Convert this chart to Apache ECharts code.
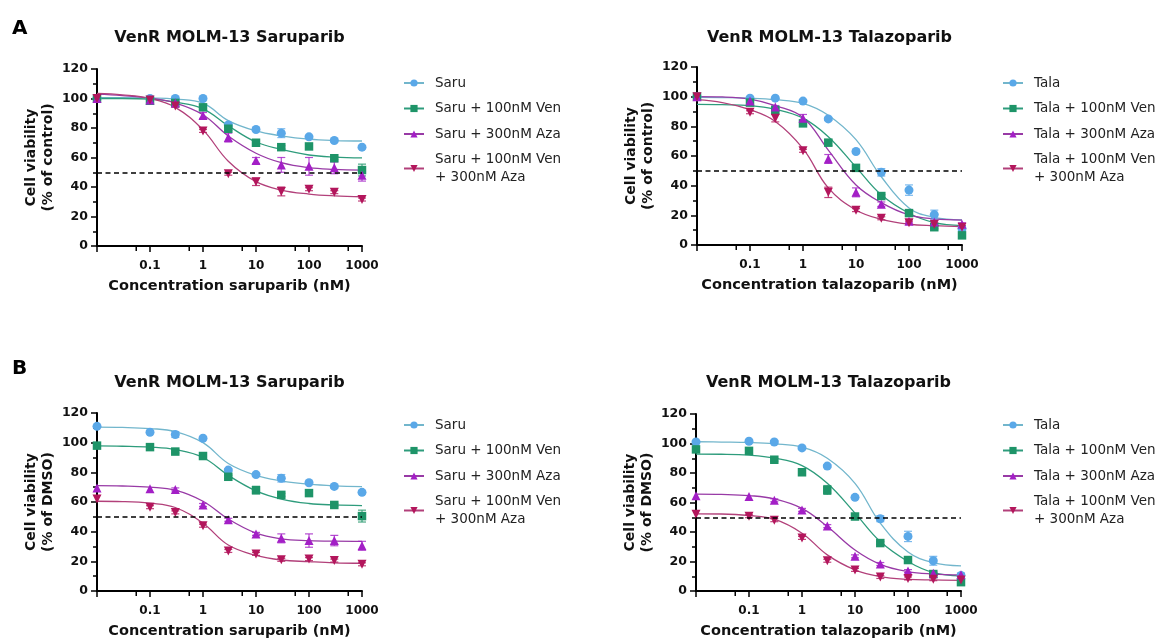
<!DOCTYPE html>
<html>
<head>
<meta charset="utf-8">
<script src="https://cdn.jsdelivr.net/npm/echarts@6/dist/echarts.min.js"></script>
<style>
  html, body { margin: 0; padding: 0; background: #fff; }
  #chart { width: 1171px; height: 641px; }
</style>
</head>
<body>
<div id="chart"></div>
<script>
// concentrations (nM); the untreated control is drawn at the axis origin 0.01
const conc = [0.01, 0.1, 0.3, 1, 3, 10, 30, 100, 300, 1000];
const fitConc = [0.01, 0.03, 0.1, 0.3, 1, 3, 10, 30, 100, 300, 1000];

const saruNames = ['Saru', 'Saru + 100nM Ven', 'Saru + 300nM Aza', 'Saru + 100nM Ven\n+ 300nM Aza'];
const talaNames = ['Tala', 'Tala + 100nM Ven', 'Tala + 300nM Aza', 'Tala + 100nM Ven\n+ 300nM Aza'];
const titles = ['VenR MOLM-13 Saruparib', 'VenR MOLM-13 Talazoparib', 'VenR MOLM-13 Saruparib', 'VenR MOLM-13 Talazoparib'];
const yNames = ['Cell viability\n(% of control)', 'Cell viability\n(% of control)', 'Cell viability\n(% of DMSO)', 'Cell viability\n(% of DMSO)'];
const xNames = ['Concentration saruparib (nM)', 'Concentration talazoparib (nM)', 'Concentration saruparib (nM)', 'Concentration talazoparib (nM)'];
// minor x ticks (nM)
const minorTicks = [0.055, 0.55, 5.5, 55, 550];

// ---- A, saruparib (% of control)
const aSaru = [100, 100, 100, 100, 82, 79, 76.5, 74, 71.5, 67];
const aSaruErr = [0, 0, 1, 0, 1, 1, 3, 1, 1, 1];
const aSaruFit = [100.5, 100.5, 100.3, 99.6, 96.8, 85, 78, 74.7, 72.4, 71.5, 71.2];
const aSaruVen = [100, 98.5, 97, 94, 79.5, 70, 67, 67.5, 59.5, 51.5];
const aSaruVenErr = [0, 0, 0, 1, 1, 2, 1, 1, 1, 4];
const aSaruVenFit = [100, 100, 99.6, 97.5, 93, 81.5, 70.5, 65.5, 61.7, 60.3, 59.8];
const aSaruAza = [100, 99, 97, 88.5, 73.5, 58, 55, 54, 53, 48];
const aSaruAzaErr = [0, 0, 1, 2, 3, 2, 5, 6, 4, 4];
const aSaruAzaFit = [103, 102, 100.3, 97, 89, 74.6, 62.9, 56.5, 53.1, 52, 51.5];
const aSaruVenAza = [100, 99, 95, 78, 49, 43.5, 37, 38.5, 36.5, 31.5];
const aSaruVenAzaErr = [0, 0, 1, 1, 1, 2.5, 3, 1, 1, 1];
const aSaruVenAzaFit = [103.5, 102.5, 100, 94, 78.7, 57.5, 43.6, 37.9, 35.2, 34, 33.4];

// ---- A, talazoparib (% of control)
const aTala = [100, 99, 99, 97, 85, 63, 49, 37, 20.5, 11];
const aTalaErr = [0, 1, 0, 1, 1, 1, 2.5, 3.5, 3, 1.5];
const aTalaFit = [99.5, 99.4, 99, 98, 95.5, 87.5, 71, 46, 25, 18.7, 17];
const aTalaVen = [100, 96, 91, 82, 69, 52, 33, 21.5, 12, 6.5];
const aTalaVenErr = [0, 1, 1, 1, 2, 1, 1, 1, 1, 1];
const aTalaVenFit = [94.8, 94.6, 94, 91.5, 85.5, 73, 52.5, 33.8, 21.4, 15.1, 13.1];
const aTalaAza = [100, 97, 93, 85.5, 58, 35.5, 27.5, 16, 15.5, 14];
const aTalaAzaErr = [0, 0, 1, 2.5, 3, 3, 1.5, 1, 1, 1];
const aTalaAzaFit = [100, 99.8, 98.4, 94, 86, 64, 40.5, 28.6, 20.3, 17.6, 16.8];
const aTalaVenAza = [100, 89.5, 85.5, 63.5, 35.5, 23.5, 18, 15, 14, 12];
const aTalaVenAzaErr = [0, 1, 2.5, 1, 3.5, 1, 1, 1, 1, 1];
const aTalaVenAzaFit = [98, 96, 91.2, 83.3, 65, 38.5, 23.6, 17.3, 14, 13, 12.4];

// ---- B, saruparib (% of DMSO)
const bSaru = [111, 107, 105.5, 103, 81.5, 78.5, 76, 73, 70.5, 66.5];
const bSaruErr = [0, 1, 2, 1, 1, 1, 2.5, 1, 1, 1];
const bSaruFit = [110.5, 110.3, 109.5, 107.5, 100, 86, 78, 74.3, 72, 70.9, 70.4];
const bSaruVen = [98, 97, 94, 91, 77, 68, 64.8, 66, 58, 50.5];
const bSaruVenErr = [0, 0, 1, 1, 1, 2.5, 1, 1, 1, 4];
const bSaruVenFit = [97.8, 97.6, 97, 95.3, 90, 78, 67.5, 62, 59, 58, 57.6];
const bSaruAza = [69.5, 69, 68.5, 58, 48, 38.5, 35.5, 34, 34, 30.5];
const bSaruAzaErr = [0, 0, 1, 1, 1, 1, 3, 4.5, 3.5, 3];
const bSaruAzaFit = [71, 70.8, 70, 68, 60.5, 48.5, 39, 35.2, 34, 33.6, 33.5];
const bSaruVenAza = [62, 56.5, 53, 44, 27, 25, 21, 21.5, 20.5, 18];
const bSaruVenAzaErr = [0, 1, 1, 1, 1, 1, 1, 1, 1, 1];
const bSaruVenAzaFit = [60.5, 60.3, 59.2, 56.3, 45.7, 31, 24, 20.9, 19.8, 19, 18.7];

// ---- B, talazoparib (% of DMSO)
const bTala = [101, 101.5, 101, 97, 84.7, 63.5, 49, 37, 20.5, 10.5];
const bTalaErr = [0, 1, 1, 1, 1, 1, 2, 3.5, 3, 1];
const bTalaFit = [101.2, 101, 100.7, 99.8, 97.5, 90, 73, 46, 26.5, 19.2, 17];
const bTalaVen = [96, 95, 89, 80.5, 68.5, 50.5, 32.5, 21, 11.5, 6];
const bTalaVenErr = [0, 1, 1, 1, 3, 1, 1, 1, 1, 1];
const bTalaVenFit = [92.8, 92.7, 92.1, 90.1, 85, 73, 52.8, 33.5, 20, 12.5, 10.2];
const bTalaAza = [64.5, 64, 61.5, 55, 44, 23.5, 18.3, 13.5, 12, 11];
const bTalaAzaErr = [0, 0, 1, 1, 1, 1, 1, 1, 1, 1];
const bTalaAzaFit = [65.7, 65.5, 64.7, 62.5, 56, 43.7, 27.8, 18.1, 13.1, 11.5, 10.9];
const bTalaVenAza = [52, 50.7, 48, 36, 20.5, 14.3, 9.5, 8.5, 8, 7.5];
const bTalaVenAzaErr = [0, 1, 1, 1, 1, 1, 1, 1, 1, 1];
const bTalaVenAzaFit = [52.3, 52.2, 51.2, 48.7, 39.2, 24.5, 14.3, 9.7, 7.9, 7.5, 7.2];

const panels = [
  { names: saruNames, pts: [aSaru, aSaruVen, aSaruAza, aSaruVenAza], errs: [aSaruErr, aSaruVenErr, aSaruAzaErr, aSaruVenAzaErr], fits: [aSaruFit, aSaruVenFit, aSaruAzaFit, aSaruVenAzaFit] },
  { names: talaNames, pts: [aTala, aTalaVen, aTalaAza, aTalaVenAza], errs: [aTalaErr, aTalaVenErr, aTalaAzaErr, aTalaVenAzaErr], fits: [aTalaFit, aTalaVenFit, aTalaAzaFit, aTalaVenAzaFit] },
  { names: saruNames, pts: [bSaru, bSaruVen, bSaruAza, bSaruVenAza], errs: [bSaruErr, bSaruVenErr, bSaruAzaErr, bSaruVenAzaErr], fits: [bSaruFit, bSaruVenFit, bSaruAzaFit, bSaruVenAzaFit] },
  { names: talaNames, pts: [bTala, bTalaVen, bTalaAza, bTalaVenAza], errs: [bTalaErr, bTalaVenErr, bTalaAzaErr, bTalaVenAzaErr], fits: [bTalaFit, bTalaVenFit, bTalaAzaFit, bTalaVenAzaFit] }
];

const markerColors = ['#5aa8e8', '#1e9468', '#a31fc6', '#b3165c'];
const curveColors = ['#72b6cc', '#2e9c7c', '#983aa6', '#b2407a'];
const symbols = ['circle', 'rect', 'triangle', 'path://M0,0 L10,0 L5,10 Z'];
const symbolSizes = [9, 8.5, 9, 9];

const FONT = 'DejaVu Sans';
const grids = [
  { left: 97, top: 69, width: 265, height: 177 },
  { left: 697, top: 67, width: 265, height: 178 },
  { left: 97, top: 413, width: 265, height: 178 },
  { left: 696, top: 414, width: 265, height: 177 }
];
const legendPos = [[403, 74], [1002, 74], [403, 416], [1002, 416]];

let xAxis = [], yAxis = [], series = [], legend = [], title = [];

panels.forEach((p, i) => {
  xAxis.push({
    type: 'log', logBase: 10, min: 0.01, max: 1000, gridIndex: i,
    axisLine: { onZero: false, lineStyle: { color: '#000', width: 2 } },
    axisTick: { length: 6, lineStyle: { color: '#000', width: 1.5 } },
    splitLine: { show: false },
    axisLabel: {
      margin: 14, color: '#111', fontFamily: FONT, fontWeight: 'bold', fontSize: 12,
      formatter: v => v < 0.05 ? '' : (v >= 1 ? String(Math.round(v)) : String(+v.toFixed(1)))
    },
    name: xNames[i], nameLocation: 'middle', nameGap: 33,
    nameTextStyle: { color: '#111', fontFamily: FONT, fontWeight: 'bold', fontSize: 14.5 }
  });
  yAxis.push({
    type: 'value', min: 0, max: 120, interval: 20, gridIndex: i,
    axisLine: { show: true, onZero: false, lineStyle: { color: '#000', width: 2 } },
    axisTick: { show: true, length: 6, lineStyle: { color: '#000', width: 1.5 } },
    minorTick: { show: true, splitNumber: 2, length: 4, lineStyle: { color: '#000', width: 1.5 } },
    splitLine: { show: false },
    axisLabel: { margin: 9, color: '#111', fontFamily: FONT, fontWeight: 'bold', fontSize: 12.5 },
    name: yNames[i], nameLocation: 'middle', nameGap: 40,
    nameTextStyle: { color: '#111', fontFamily: FONT, fontWeight: 'bold', fontSize: 14, lineHeight: 17 }
  });

  title.push({
    text: titles[i], left: grids[i].left + grids[i].width / 2, top: i < 2 ? 30 : 375,
    textAlign: 'center', padding: 0,
    textStyle: { color: '#111', fontFamily: FONT, fontWeight: 'bold', fontSize: 16 }
  });

  legend.push({
    orient: 'vertical', left: legendPos[i][0], top: legendPos[i][1], padding: 0,
    itemWidth: 20, itemHeight: 9, itemGap: 7.5, selectedMode: false,
    data: p.names,
    textStyle: { color: '#222', fontFamily: FONT, fontSize: 13.5, lineHeight: 18, padding: [0, 0, 0, 6] }
  });

  // minor ticks under the log axis
  series.push({
    type: 'custom', xAxisIndex: i, yAxisIndex: i, silent: true, clip: false, z: 1,
    data: minorTicks.map(v => [v, 0]),
    renderItem: (params, api) => {
      const pt = api.coord([api.value(0), 0]);
      return { type: 'line', shape: { x1: pt[0], y1: pt[1], x2: pt[0], y2: pt[1] + 5 }, style: { stroke: '#000', lineWidth: 1.5 } };
    }
  });

  p.names.forEach((name, k) => {
    const fitLine = {
      name: name, type: 'line', xAxisIndex: i, yAxisIndex: i,
      data: fitConc.map((x, j) => [x, p.fits[k][j]]),
      smooth: 0.4, showSymbol: false,
      symbol: symbols[k], symbolSize: symbolSizes[k],
      itemStyle: { color: markerColors[k] },
      lineStyle: { color: curveColors[k], width: 1.3 },
      silent: true, z: 2
    };
    if (k === 0) {
      fitLine.markLine = {
        silent: true, symbol: 'none', label: { show: false },
        lineStyle: { color: '#000', type: [5, 3.5], width: 1.6 },
        data: [{ yAxis: 50 }]
      };
    }
    series.push(fitLine);
    series.push({
      name: name + ' err', type: 'custom', xAxisIndex: i, yAxisIndex: i,
      data: conc.map((x, j) => [x, p.pts[k][j], p.errs[k][j]]),
      silent: true, z: 3, clip: false,
      renderItem: (params, api) => {
        const e = api.value(2);
        if (!e) return null;
        const hi = api.coord([api.value(0), api.value(1) + e]);
        const lo = api.coord([api.value(0), api.value(1) - e]);
        const st = { stroke: markerColors[k], lineWidth: 1.2, opacity: 0.8 };
        return {
          type: 'group', children: [
            { type: 'line', shape: { x1: hi[0], y1: hi[1], x2: lo[0], y2: lo[1] }, style: st },
            { type: 'line', shape: { x1: hi[0] - 4, y1: hi[1], x2: hi[0] + 4, y2: hi[1] }, style: st },
            { type: 'line', shape: { x1: lo[0] - 4, y1: lo[1], x2: lo[0] + 4, y2: lo[1] }, style: st }
          ]
        };
      }
    });
    series.push({
      name: name + ' pts', type: 'scatter', xAxisIndex: i, yAxisIndex: i,
      data: conc.map((x, j) => [x, p.pts[k][j]]),
      symbol: symbols[k], symbolSize: symbolSizes[k],
      itemStyle: { color: markerColors[k], opacity: 1 },
      clip: false, silent: true, z: 4
    });
  });
});

title.push({ text: 'A', left: 12, top: 19, padding: 0, textStyle: { color: '#000', fontFamily: FONT, fontWeight: 'bold', fontSize: 20 } });
title.push({ text: 'B', left: 12, top: 359, padding: 0, textStyle: { color: '#000', fontFamily: FONT, fontWeight: 'bold', fontSize: 20 } });

const chart = echarts.init(document.getElementById('chart'));
chart.setOption({
  backgroundColor: '#fff',
  animation: false,
  title: title,
  legend: legend,
  grid: grids,
  xAxis: xAxis,
  yAxis: yAxis,
  series: series
});
</script>
</body>
</html>
